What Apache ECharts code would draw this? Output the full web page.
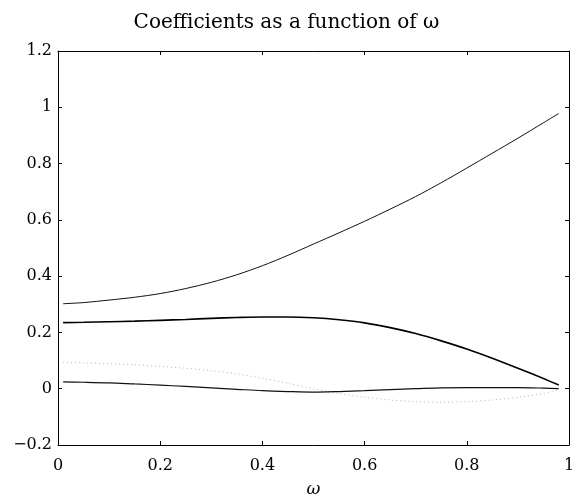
<!DOCTYPE html>
<html><head><meta charset="utf-8">
<script src="https://cdn.jsdelivr.net/npm/echarts@6/dist/echarts.min.js"></script>
<style>html,body{margin:0;padding:0;background:#fff}#c{width:573px;height:495px}</style>
</head><body><div id="c"></div>
<script>
const omega = [0.01, 0.05, 0.1, 0.15, 0.2, 0.25, 0.3, 0.35, 0.4, 0.45, 0.5, 0.55, 0.6, 0.65, 0.7, 0.75, 0.8, 0.85, 0.9, 0.95, 0.98];
const coefA = [0.302, 0.306, 0.315, 0.325, 0.338, 0.356, 0.378, 0.405, 0.437, 0.474, 0.514, 0.554, 0.595, 0.638, 0.683, 0.732, 0.784, 0.837, 0.89, 0.945, 0.978];
const coefB = [0.235, 0.236, 0.238, 0.240, 0.243, 0.246, 0.25, 0.253, 0.255, 0.255, 0.252, 0.245, 0.234, 0.217, 0.196, 0.17, 0.141, 0.108, 0.073, 0.036, 0.013];
const coefC = [0.093, 0.092, 0.089, 0.085, 0.079, 0.073, 0.064, 0.053, 0.037, 0.019, 0.0, -0.017, -0.03, -0.04, -0.046, -0.048, -0.046, -0.04, -0.031, -0.017, -0.005];
const coefD = [0.024, 0.023, 0.021, 0.017, 0.013, 0.008, 0.003, -0.002, -0.007, -0.01, -0.012, -0.01, -0.007, -0.003, 0.0, 0.003, 0.004, 0.004, 0.004, 0.002, 0.0];
const xTicks = [0, 0.2, 0.4, 0.6, 0.8, 1];
const yTicks = [-0.2, 0, 0.2, 0.4, 0.6, 0.8, 1, 1.2];

const font = 'DejaVu Serif';
const pair = arr => omega.map((w, i) => [w, arr[i]]);
const fmt = v => (v < 0 ? '\u2212' : '') + String(Math.abs(Math.round(v * 10) / 10));
const axisCommon = () => ({
  axisLine: { show: true, onZero: false, lineStyle: { color: '#000', width: 1 } },
  axisTick: { show: true, inside: true, length: 4, lineStyle: { color: '#000' } },
  splitLine: { show: false }
});
const chart = echarts.init(document.getElementById('c'));
chart.setOption({
  animation: false,
  backgroundColor: '#fff',
  title: { text: 'Coefficients as a function of \u03c9', left: 'center', top: 8,
    textStyle: { fontFamily: font, fontSize: 20, fontWeight: 'normal', color: '#000' } },
  grid: { left: 58, right: 4, top: 51, bottom: 50, outerBoundsMode: 'none', containLabel: false },
  xAxis: [
    Object.assign({ type: 'value', min: 0, max: 1, interval: 0.2, position: 'bottom',
      name: '\u03c9', nameLocation: 'middle', nameGap: 36,
      nameTextStyle: { fontFamily: font, fontSize: 17, fontStyle: 'italic', color: '#000' },
      axisLabel: { fontFamily: font, fontSize: 16, color: '#000', margin: 13,
        formatter: v => xTicks.some(t => Math.abs(t - v) < 1e-9) ? fmt(v) : '' } }, axisCommon()),
    Object.assign({ type: 'value', min: 0, max: 1, interval: 0.2, position: 'top',
      axisLabel: { show: false } }, axisCommon())
  ],
  yAxis: [
    Object.assign({ type: 'value', min: -0.2, max: 1.2, interval: 0.2, position: 'left',
      axisLabel: { fontFamily: font, fontSize: 16, color: '#000', margin: 6,
        formatter: v => yTicks.some(t => Math.abs(t - v) < 1e-9) ? fmt(v) : '' } }, axisCommon()),
    Object.assign({ type: 'value', min: -0.2, max: 1.2, interval: 0.2, position: 'right',
      axisLabel: { show: false } }, axisCommon())
  ],
  series: [
    { type: 'line', data: pair(coefA), smooth: 0.3, showSymbol: false, lineStyle: { color: '#111', width: 1 } },
    { type: 'line', data: pair(coefB), smooth: 0.3, showSymbol: false, lineStyle: { color: '#000', width: 1.6 } },
    { type: 'line', data: pair(coefC), smooth: 0.3, showSymbol: false, lineStyle: { color: '#b5b5b5', width: 1, type: [1, 3] } },
    { type: 'line', data: pair(coefD), smooth: 0.3, showSymbol: false, lineStyle: { color: '#111', width: 1.2 } }
  ]
});
</script></body></html>
